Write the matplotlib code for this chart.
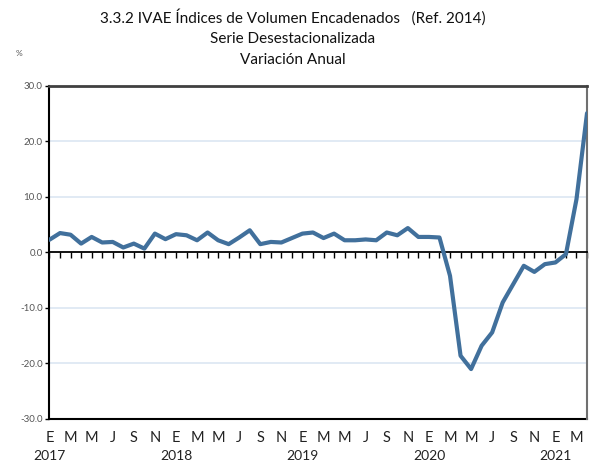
import matplotlib
matplotlib.use("Agg")
import matplotlib.pyplot as plt
import numpy as np

plt.rcParams['font.family'] = ['Lato', 'DejaVu Sans']

title_lines = ["3.3.2 IVAE Índices de Volumen Encadenados   (Ref. 2014)",
               "Serie Desestacionalizada",
               "Variación Anual"]
unit_label = "%"

month_letters = ["E", "F", "M", "A", "M", "J", "J", "A", "S", "O", "N", "D"]
years = [2017, 2018, 2019, 2020, 2021]

values = [
    # 2017
    2.3, 3.5, 3.2, 1.6, 2.8, 1.8, 1.9, 0.9, 1.6, 0.7, 3.4, 2.4,
    # 2018
    3.3, 3.1, 2.2, 3.6, 2.2, 1.5, 2.7, 4.0, 1.5, 1.9, 1.8, 2.6,
    # 2019
    3.4, 3.6, 2.6, 3.4, 2.2, 2.2, 2.35, 2.2, 3.6, 3.1, 4.4, 2.8,
    # 2020
    2.8, 2.7, -4.2, -18.6, -21.0, -16.8, -14.4, -9.0, -5.7, -2.4, -3.5, -2.1,
    # 2021
    -1.8, -0.3, 9.6, 25.1,
]

y_ticks = [-30, -20, -10, 0, 10, 20, 30]

x = np.arange(len(values))

fig = plt.figure(figsize=(5.92, 4.62), dpi=100)
ax = fig.add_axes([0.0836, 0.0931, 0.9080, 0.7208])

line_color = '#41709C'
grid_color = '#DCE6F2'

for yv in y_ticks:
    if yv not in (0, -30, 30):
        ax.axhline(yv, color=grid_color, lw=1.2, zorder=1)

ax.plot(x, values, color=line_color, lw=3.0, solid_joinstyle='round',
        solid_capstyle='round', zorder=3)

ax.set_xlim(0, len(values) - 1)
ax.set_ylim(-30, 30)

# y axis
ax.set_yticks(y_ticks)
ax.set_yticklabels([f"{v:.1f}" for v in y_ticks])
ax.tick_params(axis='y', direction='out', length=3, width=1, color='black',
               labelsize=7, labelcolor='#555555', pad=2)

# zero line with monthly ticks
ax.spines['bottom'].set_position(('data', 0))
ax.spines['bottom'].set_color('black')
ax.spines['bottom'].set_linewidth(1.3)
ax.set_xticks(x)
ax.tick_params(axis='x', direction='out', length=4, width=1, color='black',
               labelbottom=False)

ax.spines['left'].set_color('black')
ax.spines['left'].set_linewidth(1.5)
ax.spines['top'].set_color('#404040')
ax.spines['top'].set_linewidth(2)
ax.spines['right'].set_color('#707070')
ax.spines['right'].set_linewidth(1.5)

# bottom border and month labels
sec = ax.secondary_xaxis(0)
lab_pos = x[::2]
sec.set_xticks(lab_pos)
sec.set_xticklabels([month_letters[i % 12] for i in lab_pos],
                    fontsize=10.5, color='#222222')
sec.tick_params(axis='x', length=0, pad=9)
sec.spines['bottom'].set_color('black')
sec.spines['bottom'].set_linewidth(1.5)

# year labels
sec2 = ax.secondary_xaxis(0)
year_pos = x[::12]
sec2.set_xticks(year_pos)
sec2.set_xticklabels([str(years[i // 12]) for i in year_pos],
                     fontsize=10, color='#222222')
sec2.tick_params(axis='x', length=0, pad=22)
sec2.spines['bottom'].set_visible(False)

# titles
title_y = [0.962, 0.916, 0.870]
for t, yy in zip(title_lines, title_y):
    fig.text(0.494, yy, t, ha='center', va='center', fontsize=11, color='#111111')
fig.text(0.032, 0.885, unit_label, ha='center', va='center', fontsize=6, color='#555555')

fig.savefig("out.png", dpi=100)
